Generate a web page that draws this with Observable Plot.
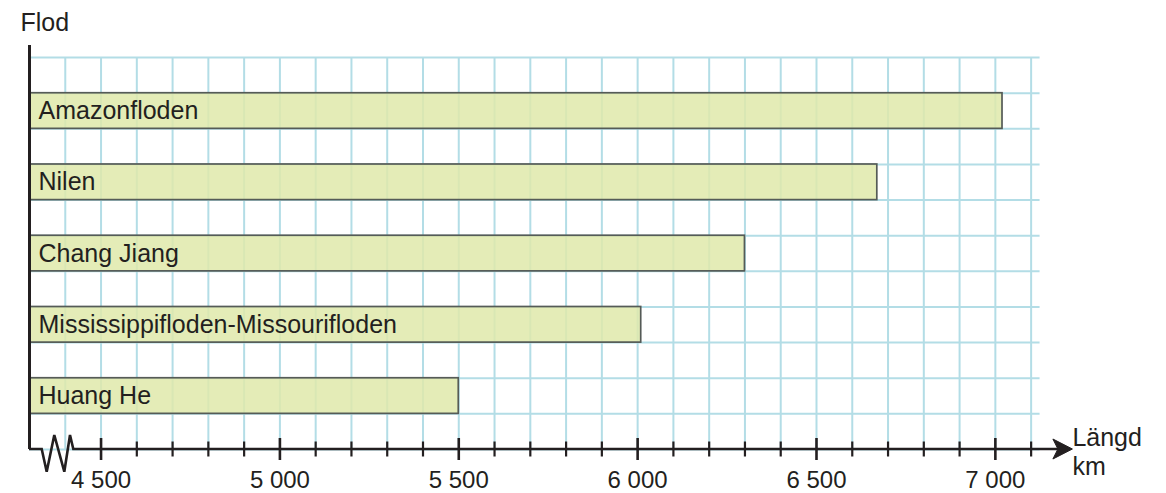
<!DOCTYPE html>
<html><head><meta charset="utf-8">
<script src="https://cdn.jsdelivr.net/npm/d3@7"></script>
<script src="https://cdn.jsdelivr.net/npm/@observablehq/plot@0.6"></script>
<style>body{margin:0;background:#fff} svg{display:block}</style>
</head><body><div id="chart"></div>
<script>
// ---- data ----
const rivers = ["Amazonfloden", "Nilen", "Chang Jiang", "Mississippifloden-Missourifloden", "Huang He"];
const lengths = [7020, 6670, 6300, 6010, 5500];
const majorTicks = [4500, 5000, 5500, 6000, 6500, 7000];
const tickLabels = ["4 500", "5 000", "5 500", "6 000", "6 500", "7 000"];
const minorTicks = d3.range(4500, 7200, 100).filter(v => !majorTicks.includes(v));
const gridX = d3.range(4400, 7200, 100);
const gridRows = d3.range(0, 12);
const yTitle = "Flod";
const xTitle = "Längd\nkm";
const xDomain = [4300, 7200];

const n = rivers.length;
const data = rivers.map((name, i) => ({name, length: lengths[i], row: 2 * (n - 1 - i) + 1}));

const ink = "#231f20";
const gridColor = "#b3dde6";
const font = "'Liberation Sans', Arial, Helvetica, sans-serif";

// custom axis line with break symbol and arrow head
function xAxisLine(index, scales, values, dims) {
  const x0 = dims.marginLeft;
  const y0 = dims.height - dims.marginBottom;
  const xEnd = dims.width - dims.marginRight;
  const g = d3.create("svg:g");
  g.append("path")
    .attr("d", `M${x0},${y0}H${x0 + 12.7}L${x0 + 17.7},${y0 + 22.7}L${x0 + 25.3},${y0 - 14}L${x0 + 35.3},${y0 + 22.7}L${x0 + 41},${y0 - 14}L${x0 + 44.3},${y0}H${xEnd - 8}`)
    .attr("fill", "none").attr("stroke", ink).attr("stroke-width", 2.6)
    .attr("stroke-linejoin", "miter");
  g.append("path")
    .attr("d", `M${xEnd + 6},${y0}L${xEnd - 13.5},${y0 - 10}L${xEnd - 8.5},${y0}L${xEnd - 13.5},${y0 + 10}Z`)
    .attr("fill", ink).attr("stroke", ink).attr("stroke-width", 1).attr("stroke-linejoin", "miter");
  return g.node();
}

const chart = Plot.plot({
  width: 1166,
  height: 493,
  marginLeft: 29,
  marginRight: 99.6,
  marginTop: 45,
  marginBottom: 44,
  style: {fontFamily: font, background: "#fff", overflow: "visible"},
  x: {domain: xDomain, axis: null},
  y: {domain: [0, 11.34], axis: null},
  marks: [
    Plot.ruleX(gridX, {y1: 0, y2: 11, stroke: gridColor, strokeWidth: 2}),
    Plot.ruleY(gridRows, {x1: xDomain[0], x2: 7125, stroke: gridColor, strokeWidth: 2}),
    Plot.rectX(data, {x1: xDomain[0], x2: "length", y1: "row", y2: d => d.row + 1,
      fill: "#dfe9aa", fillOpacity: 0.85, stroke: "#555b57", strokeWidth: 1.7}),
    Plot.text(data, {x: xDomain[0], y: d => d.row + 0.5, text: "name", textAnchor: "start",
      dx: 9, fontSize: 25, fill: ink}),
    Plot.ruleX([xDomain[0]], {stroke: ink, strokeWidth: 3}),
    xAxisLine,
    Plot.ruleX(majorTicks, {y1: 0, y2: 0, insetTop: 11, insetBottom: 11, stroke: ink, strokeWidth: 2.6}),
    Plot.ruleX(minorTicks, {y1: 0, y2: 0, insetTop: 7.5, insetBottom: 7.5, stroke: ink, strokeWidth: 2.2}),
    Plot.text(majorTicks, {x: d => d, y: 0, text: (d, i) => tickLabels[i], dy: 31, fontSize: 24, fill: ink}),
    Plot.text([yTitle], {frameAnchor: "top-left", textAnchor: "start", lineAnchor: "middle",
      dx: -9, dy: -23, fontSize: 25, fill: ink}),
    Plot.text([xTitle], {x: xDomain[1], y: 0, textAnchor: "start", lineAnchor: "middle",
      dx: 5.5, dy: 2, fontSize: 25, lineHeight: 1.16, fill: ink})
  ]
});
document.getElementById("chart").appendChild(chart);
</script>
</body></html>
